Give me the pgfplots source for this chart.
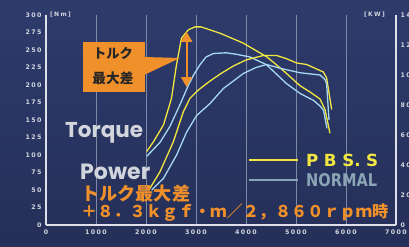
\documentclass[border=0pt]{standalone}
\usepackage{pgfplots}
\pgfplotsset{compat=1.18}
\usepackage{fontspec}
\usepackage{graphicx}
\usetikzlibrary{arrows.meta}
\newfontfamily\tickf{DejaVu Sans}[LetterSpace=22]
\newfontfamily\lblf{Poppins}
\newfontfamily\cjk{Noto Sans CJK JP}
\newfontfamily\condf{DejaVu Sans}
\definecolor{bgtop}{HTML}{2D3B6C}
\definecolor{bgbot}{HTML}{252F58}
\definecolor{axc}{HTML}{DDE0E8}
\definecolor{gridc}{HTML}{7F88A6}
\definecolor{tickc}{HTML}{D4D7E0}
\definecolor{ylw}{HTML}{F2E640}
\definecolor{blu}{HTML}{A6D8F2}
\definecolor{nrm}{HTML}{8AA6B6}
\definecolor{org}{HTML}{F0902A}
\definecolor{lbl}{HTML}{D2D5DC}

\pgfplotstableread{
rpm nm
2013 105
2150 119
2350 143
2510 181
2610 229
2710 267
2850 279
2980 283
3100 283
3480 274
3940 260
4420 240
4740 221
5080 199
5280 190
5480 180
5580 165
5680 131
}\ytorque
\pgfplotstableread{
rpm nm
2013 98
2280 118
2480 141
2680 172
2850 200
2950 214
3080 229
3200 240
3350 245
3600 246
3800 244
4080 240
4410 229
4810 202
5080 188
5350 178
5480 170
5550 164
5620 138
}\btorque
\pgfplotstableread{
rpm kw
2080 24.5
2280 35.5
2547 55.5
2747 75.5
2880 84.5
3047 90
3280 96
3500 101
3747 106
4000 110
4347 113
4613 113
4800 111
5013 108
5213 107
5480 103
5547 102
5613 98
5713 77
}\ypower
\pgfplotstableread{
rpm kw
2113 23.3
2347 31
2613 46.7
2813 62
3013 73
3280 81
3547 91
3947 101
4200 105
4413 107
4680 104.5
5080 101.5
5480 100
5580 97
5613 94
5660 70
}\bpower

\begin{document}
\begin{tikzpicture}[x=1bp,y=1bp]
\useasboundingbox (0,0) rectangle (409,247);
\shade[top color=bgtop,bottom color=bgbot] (0,0) rectangle (409,247);
\begin{axis}[
  at={(46bp,22bp)}, anchor=south west, scale only axis,
  width=350bp, height=210bp,
  xmin=0, xmax=7000, ymin=0, ymax=300,
  axis x line*=bottom, axis y line*=left,
  axis line style={color=axc, line width=2bp, -},
  xtick={0,1000,2000,3000,4000,5000,6000,7000},
  xticklabels={0,1000,2000,3000,4000,5000,6000,7000},
  ytick={0,25,50,75,100,125,150,175,200,225,250,275,300},
  yticklabels={0,25,50,75,100,125,150,175,200,225,250,275,300},
  major tick length=0pt,
  xmajorgrids, grid style={color=gridc, line width=0.8bp},
  tick label style={font=\tickf\bfseries\fontsize{6.3}{7}\selectfont, text=tickc},
  xticklabel style={yshift=-1bp},
  yticklabel style={xshift=-1bp},
  clip=false,
]
\addplot[color=ylw, line width=1.3bp] table[x=rpm,y=nm] {\ytorque};
\addplot[color=blu, line width=1.3bp] table[x=rpm,y=nm] {\btorque};
\draw[org, line width=2bp, {Triangle[width=11bp,length=10bp]}-{Triangle[width=11bp,length=10bp]}] (axis cs:2813,276) -- (axis cs:2813,197);
\end{axis}
\begin{axis}[
  at={(46bp,22bp)}, anchor=south west, scale only axis,
  width=350bp, height=210bp,
  xmin=0, xmax=7000, ymin=0, ymax=140,
  axis y line*=right, hide x axis,
  axis line style={color=axc, line width=2bp, -},
  ytick={0,20,40,60,80,100,120,140},
  yticklabels={0,20,40,60,80,100,120,140},
  major tick length=0pt,
  tick label style={font=\tickf\bfseries\fontsize{6.3}{7}\selectfont, text=tickc},
  yticklabel style={xshift=1bp},
  clip=false,
]
\addplot[color=ylw, line width=1.3bp] table[x=rpm,y=kw] {\ypower};
\addplot[color=blu, line width=1.3bp] table[x=rpm,y=kw] {\bpower};
\end{axis}
% unit labels
\node[anchor=west, text=tickc, inner sep=0] at (50,232) {\tickf\bfseries\fontsize{6}{7}\selectfont [Nm]};
\node[anchor=west, text=tickc, inner sep=0] at (364,232) {\tickf\bfseries\fontsize{6}{7}\selectfont [KW]};
% callout
\fill[org] (83,205) rectangle (145,155);
\fill[org] (144,190) -- (180,189) -- (144,172) -- cycle;
\node[text=black!85, inner sep=0] at (113,194) {\resizebox{40bp}{!}{\cjk\bfseries トルク}};
\node[text=black!85, inner sep=0] at (113,169) {\resizebox{41bp}{!}{\cjk\bfseries 最大差}};
% Torque / Power labels
\node[anchor=west, text=lbl, inner sep=0] at (65,114) {\resizebox{78bp}{!}{\lblf\bfseries Torque}};
\node[anchor=west, text=lbl, inner sep=0] at (80,75) {\resizebox{70bp}{!}{\lblf\bfseries Power}};
% legend
\draw[ylw, line width=1.3bp] (249,87) -- (298,87);
\draw[nrm, line width=1.6bp] (249,67) -- (298,67);
\node[anchor=west, text=ylw, inner sep=0] at (306,87) {\resizebox{72bp}{!}{\condf\bfseries P\,\,B\,\,S.\,\,S}};
\node[anchor=west, text=nrm, inner sep=0] at (306,67) {\resizebox{71bp}{13bp}{\condf\bfseries NORMAL}};
% orange note
\node[anchor=west, text=org, inner sep=0] at (81,53) {\resizebox{109bp}{!}{\cjk\bfseries トルク最大差}};
\node[anchor=west, text=org, inner sep=0] at (81,34) {\resizebox{307bp}{!}{\cjk\bfseries ＋８．３ｋｇｆ・ｍ／２，８６０ｒｐｍ時}};
\end{tikzpicture}
\end{document}
